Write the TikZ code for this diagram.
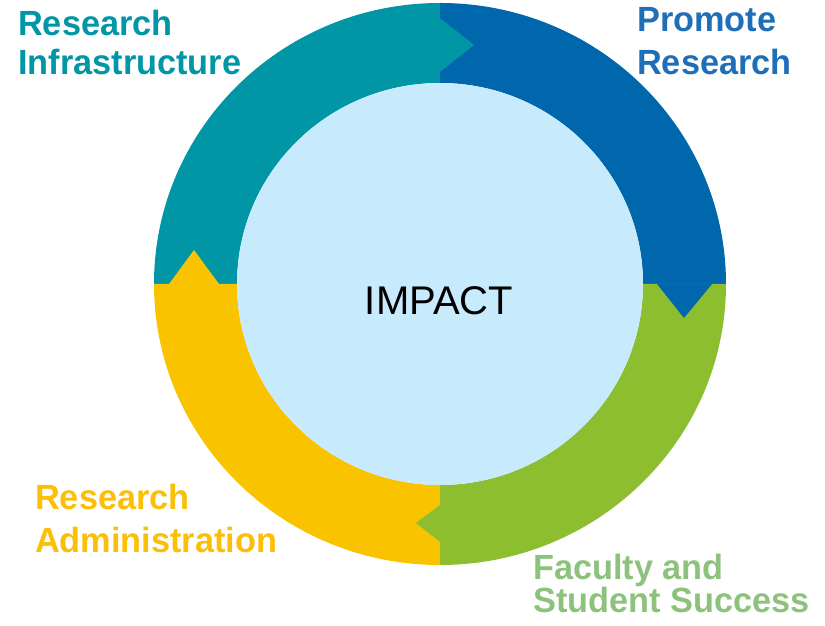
\documentclass[tikz,border=0pt]{standalone}
\usepackage{fontspec}
\setmainfont{Liberation Sans}
\newfontfamily\tagfont{Liberation Sans}[FakeStretch=0.98]
\definecolor{ringteal}{HTML}{0096A6}
\definecolor{ringblue}{HTML}{0067AC}
\definecolor{ringgreen}{HTML}{8DBE2F}
\definecolor{ringyellow}{HTML}{FAC300}
\definecolor{coreblue}{HTML}{C7EBFC}
\definecolor{tagblue}{HTML}{1F6FB8}
\definecolor{tagyellow}{HTML}{FBBF08}
\definecolor{taggreen}{HTML}{8CC27C}
\tikzset{
  tag/.style={font=\tagfont\bfseries\fontsize{35}{#1}\selectfont, align=left, inner sep=0pt, anchor=base west},
  tip/.style={draw=none}
}

\begin{document}
\begin{tikzpicture}[x=1pt, y=1pt]
  \useasboundingbox (0,0) rectangle (825,626);
  \begin{scope}[shift={(440,342)}]
    % ring quarters
    \foreach \col/\a/\b in {ringteal/90/180, ringblue/0/90, ringgreen/-90/0, ringyellow/180/270}
      \fill[\col] (\a:286 and 281) arc[start angle=\a, end angle=\b, x radius=286, y radius=281]
        -- (\b:203 and 201) arc[start angle=\b, end angle=\a, x radius=203, y radius=201] -- cycle;
    % arrow tips
    \fill[ringteal] (0,266) -- (34,239) -- (0,212) -- cycle;
    \fill[ringblue] (217,0) -- (244,-34) -- (272,0) -- cycle;
    \fill[ringgreen] (0,-221) -- (-24,-239) -- (0,-258) -- cycle;
    \fill[ringyellow] (-271,0) -- (-246,34) -- (-221,0) -- cycle;
    \fill[coreblue] (0,0) ellipse[x radius=203, y radius=201];
  \end{scope}
  \node[font=\fontsize{40}{44}\selectfont, inner sep=0pt, anchor=base] (impact) at (439,311) {IMPACT};
  \node[tag=39, text=ringteal] (infra) at (18,551) {Research\\Infrastructure};
  \node[tag=43, text=tagblue] (promote) at (637,551) {Promote\\Research};
  \node[tag=43, text=tagyellow] (admin) at (35,73) {Research\\Administration};
  \node[tag=33, text=taggreen] (success) at (533,13) {Faculty and\\Student Success};
\end{tikzpicture}
\end{document}
